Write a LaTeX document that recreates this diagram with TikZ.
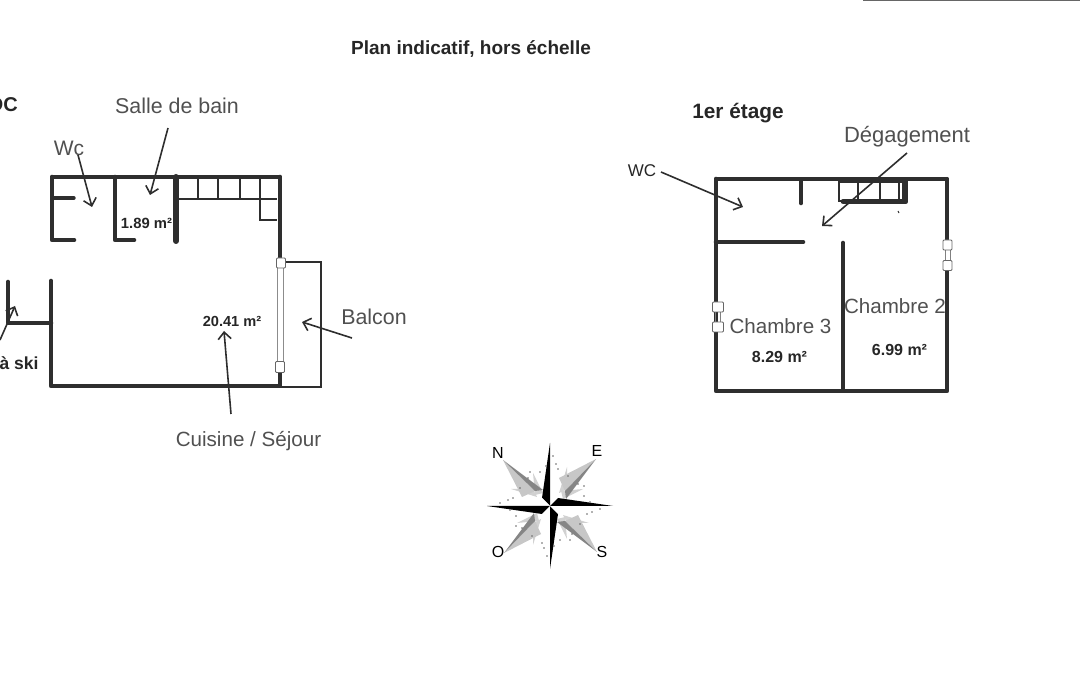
\documentclass[tikz,border=0pt]{standalone}
\usepackage{xcolor}
\usepackage{fontspec}
\setmainfont{Liberation Sans}
\usetikzlibrary{arrows.meta}
\definecolor{murs}{HTML}{2E2E2E}
\definecolor{crayon}{HTML}{505050}
\tikzset{mur/.style={draw=murs,line width=4.6pt,line cap=round,line join=round},
  mince/.style={draw=murs,line width=3.4pt,line cap=round},
  trait/.style={draw=murs,line width=1.2pt},
  fen/.style={draw=black!60,fill=white,line width=0.8pt,rounded corners=1pt,minimum width=9pt,minimum height=10pt,inner sep=0pt},
  fleche/.style={draw=murs,line width=1.6pt,-{Straight Barb[length=7pt,width=13pt]}},
  titre/.style={font=\fontsize{19}{22}\bfseries\selectfont,text=black!85},
  surf/.style={font=\fontsize{14.6}{17}\bfseries\selectfont,text=black!85},
  surfb/.style={font=\fontsize{16}{19}\bfseries\selectfont,text=black!85},
  piece/.style={font=\fontsize{20.6}{24}\selectfont,text=crayon}}

\begin{document}
\begin{tikzpicture}[x=1pt,y=-1pt]
    \useasboundingbox (0,0) rectangle (1080,700);
    \draw[draw=black!60,line width=1.2pt] (863,0) -- (1080,0);

    % titres
    \node[titre,font=\fontsize{19}{22}\bfseries\selectfont] (plan) at (471,49) {Plan indicatif, hors échelle};
    \node[titre,anchor=east,inner sep=0pt,font=\fontsize{20}{23}\bfseries\selectfont] (rdc) at (18,105) {RDC};
    \node[titre,font=\fontsize{20.8}{24}\bfseries\selectfont] (etage) at (738,113) {1er étage};

    % rez-de-chaussee
    \draw[mince] (52,177) -- (280,177);
    \draw[mur] (52,177) -- (52,240) -- (74,240);
    \draw[mince] (54,198) -- (74,198);
    \draw[mur] (115,177) -- (115,240) -- (134,240);
    \draw[mur,line width=6pt] (176,177) -- (176,241);
    \draw[mur] (280,177) -- (280,258);
    \draw[trait] (178,199) -- (260,199) -- (277,199);
    \foreach \x in {198,218,240,260} {
        \draw[trait] (\x,179) -- (\x,199);
    }
    \draw[trait] (260,199) -- (260,220) -- (277,220);
    \draw[mur] (8,282) -- (8,323) -- (51,323);
    \draw[mur] (51,281) -- (51,386) -- (280,386) -- (280,372);
    \draw[draw=black!45,line width=1pt] (277,262) -- (277,364);
    \draw[draw=black!45,line width=1pt] (283,262) -- (283,364);
    \draw[draw=murs,line width=2.4pt] (283,262) -- (321,262) -- (321,387) -- (280,387);
    \node[fen] (fen1) at (281,263) {};
    \node[fen,minimum height=11pt] (fen2) at (280,367) {};

    % 1er etage
    \draw[mur,line width=3.8pt] (716,179) -- (947,179);
    \draw[mur] (716,179) -- (716,391) -- (947,391) -- (947,268);
    \draw[mur,line width=4pt] (947,179) -- (947,242);
    \draw[mur] (801,180) -- (801,203);
    \draw[mur] (716,242) -- (803,242);
    \draw[mur] (843,243) -- (843,390);
    \draw[trait] (839,182) rectangle (903,201);
    \foreach \x in {858,880,899} {
        \draw[trait] (\x,182) -- (\x,201);
    }
    \draw[mur] (843,201.5) -- (906,201.5) -- (906,182);
    \draw[draw=murs,line width=1pt] (899,213) -- (898,211);
    \draw[draw=black!50,line width=0.8pt] (945,250) -- (945,260) (950,250) -- (950,260);
    \draw[draw=black!50,line width=0.8pt] (715,312) -- (715,322) (720,312) -- (720,322);
    \node[fen] (fen3) at (947.5,245) {};
    \node[fen] (fen4) at (947.5,265.5) {};
    \node[fen,minimum width=11pt] (fen5) at (718,307) {};
    \node[fen,minimum width=11pt] (fen6) at (718,327) {};

    % libelles
    \node[piece,font=\fontsize{21.4}{25}\selectfont] (bain) at (177,106) {Salle de bain};
    \node[piece,font=\fontsize{21}{25}\selectfont] (wc) at (69,148) {Wc};
    \node[piece,font=\fontsize{21.4}{25}\selectfont] (balcon) at (374,317) {Balcon};
    \node[piece] (cuisine) at (248.5,441) {Cuisine / Séjour};
    \node[piece,font=\fontsize{22}{25}\selectfont] (degag) at (907,137) {Dégagement};
    \node[piece] (ch3) at (780.5,326) {Chambre 3};
    \node[piece] (ch2) at (895,306) {Chambre 2};
    \node[surfb,font=\fontsize{17}{20}\selectfont] (wcb) at (642,171) {WC};
    \node[surfb,font=\fontsize{17.5}{20}\bfseries\selectfont] (ski) at (19,363) {à ski};
    \node[surf,font=\fontsize{14.8}{18}\bfseries\selectfont] (s1) at (146.5,223.5) {1.89 m²};
    \node[surf] (s2) at (232,321.5) {20.41 m²};
    \node[surfb] (s3) at (779.5,356.5) {8.29 m²};
    \node[surfb] (s4) at (899.5,349.5) {6.99 m²};

    % fleches
    \coordinate (a1) at (168,128);  \coordinate (b1) at (150,195);
    \coordinate (a2) at (78,155);   \coordinate (b2) at (92,207);
    \coordinate (a3) at (231,414);  \coordinate (b3) at (224,331);
    \coordinate (a4) at (352,338);  \coordinate (b4) at (302,322);
    \coordinate (a5) at (661,172);  \coordinate (b5) at (743,207);
    \coordinate (a6) at (907,153);  \coordinate (b6) at (822,226);
    \coordinate (a7) at (0,340);    \coordinate (b7) at (15,306);
    \foreach \i in {1,...,7} {
        \draw[fleche] (a\i) -- (b\i);
    }

    % rose des vents
    \coordinate (rose) at (550,506);
    \foreach \a in {0,90,180,270} {
        \begin{scope}[shift={(rose)},rotate=\a]
            \fill[black!18] (-7,-13) -- (-17,-33) -- (-15,-11) -- cycle;
            \fill[black!18] (-13,-9) -- (-39,-17) -- (-17,-17) -- cycle;
            \fill[black!22] (-47,-46) -- (-15,-15) -- (-28,-9) -- cycle;
            \fill[black!48] (-47,-46) -- (-7,-16) -- (-15,-15) -- cycle;
            \fill[white] (0,0) -- (0,-63) -- (8,-8) -- cycle;
            \fill[black] (0,0) -- (0,-63) -- (-8,-8) -- cycle;
            \foreach \px/\py in {-10/-34,-20/-34,-30/-18,-37/-8,-50/-3,-22/-28,-42/-6,-4/-40} {
                \fill[black!60] (\px,\py) circle (0.9);
            }
        \end{scope}
    }
    \node[font=\fontsize{16}{18}\selectfont] (nord) at (498,453) {N};
    \node[font=\fontsize{16}{18}\selectfont] (est) at (597,451) {E};
    \node[font=\fontsize{16}{18}\selectfont] (ouest) at (498,552) {O};
    \node[font=\fontsize{16}{18}\selectfont] (sud) at (602,552) {S};
\end{tikzpicture}
\end{document}
